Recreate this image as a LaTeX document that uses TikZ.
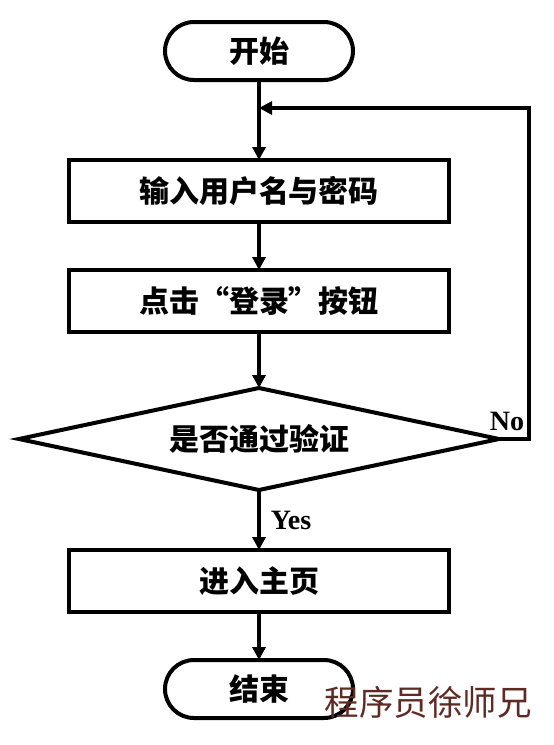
\documentclass[tikz,border=0pt]{standalone}
\usepackage{fontspec}
\setmainfont{Liberation Serif}
\newfontfamily\cjk{Noto Sans CJK SC}
\usepackage{xcolor}
\usetikzlibrary{shapes.geometric, arrows.meta, positioning}

\definecolor{markred}{HTML}{5E2B24}

\begin{document}
\begin{tikzpicture}[
    x=1pt, y=-1pt,
    line width=4pt,
    node distance=48pt,
    every node/.style={outer sep=0pt},
    term/.style={rectangle, draw, rounded corners=29pt, minimum width=188pt, minimum height=58pt, font=\cjk\bfseries\fontsize{30}{32}\selectfont},
    box/.style={rectangle, draw, minimum width=380pt, minimum height=62pt, font=\cjk\bfseries\fontsize{30}{32}\selectfont},
    decision/.style={diamond, draw, aspect=4.7, inner sep=0pt, minimum width=480pt, minimum height=102pt, font=\cjk\bfseries\fontsize{30}{32}\selectfont},
    arrow/.style={-{Triangle[length=13pt, width=13pt]}, line width=3.5pt},
    lbl/.style={font=\bfseries\fontsize{28}{30}\selectfont},
]
    \useasboundingbox (0,0) rectangle (554,745);

    % Main flow
    \node[term] (start) at (259,51) {开始};
    \node[box, below=80pt of start] (input) {输入用户名与密码};
    \node[box, below=of input] (click) {点击“登录”按钮};
    \node[decision, below=56pt of click] (check) {是否通过验证};
    \node[box, below=60pt of check] (home) {进入主页};
    \node[term, below=48pt of home] (end) {结束};

    \draw[arrow] (start) -- (input);
    \draw[arrow] (input) -- (click);
    \draw[arrow] (click) -- (check);
    \draw[arrow] (check) -- (home);
    \draw[arrow] (home) -- (end);

    % Labels
    \node[lbl] (yes) at (291,520) {Yes};
    \node[lbl] (no) at (507,421) {No};

    % Retry loop
    \coordinate (merge) at (259,108);
    \draw[arrow] (check.east) -- ++(30pt,0) |- (merge);

    % Watermark
    \node[font=\cjk\fontsize{34.5}{36}\selectfont, text=markred] (mark) at (428,702) {程序员徐师兄};
\end{tikzpicture}
\end{document}
